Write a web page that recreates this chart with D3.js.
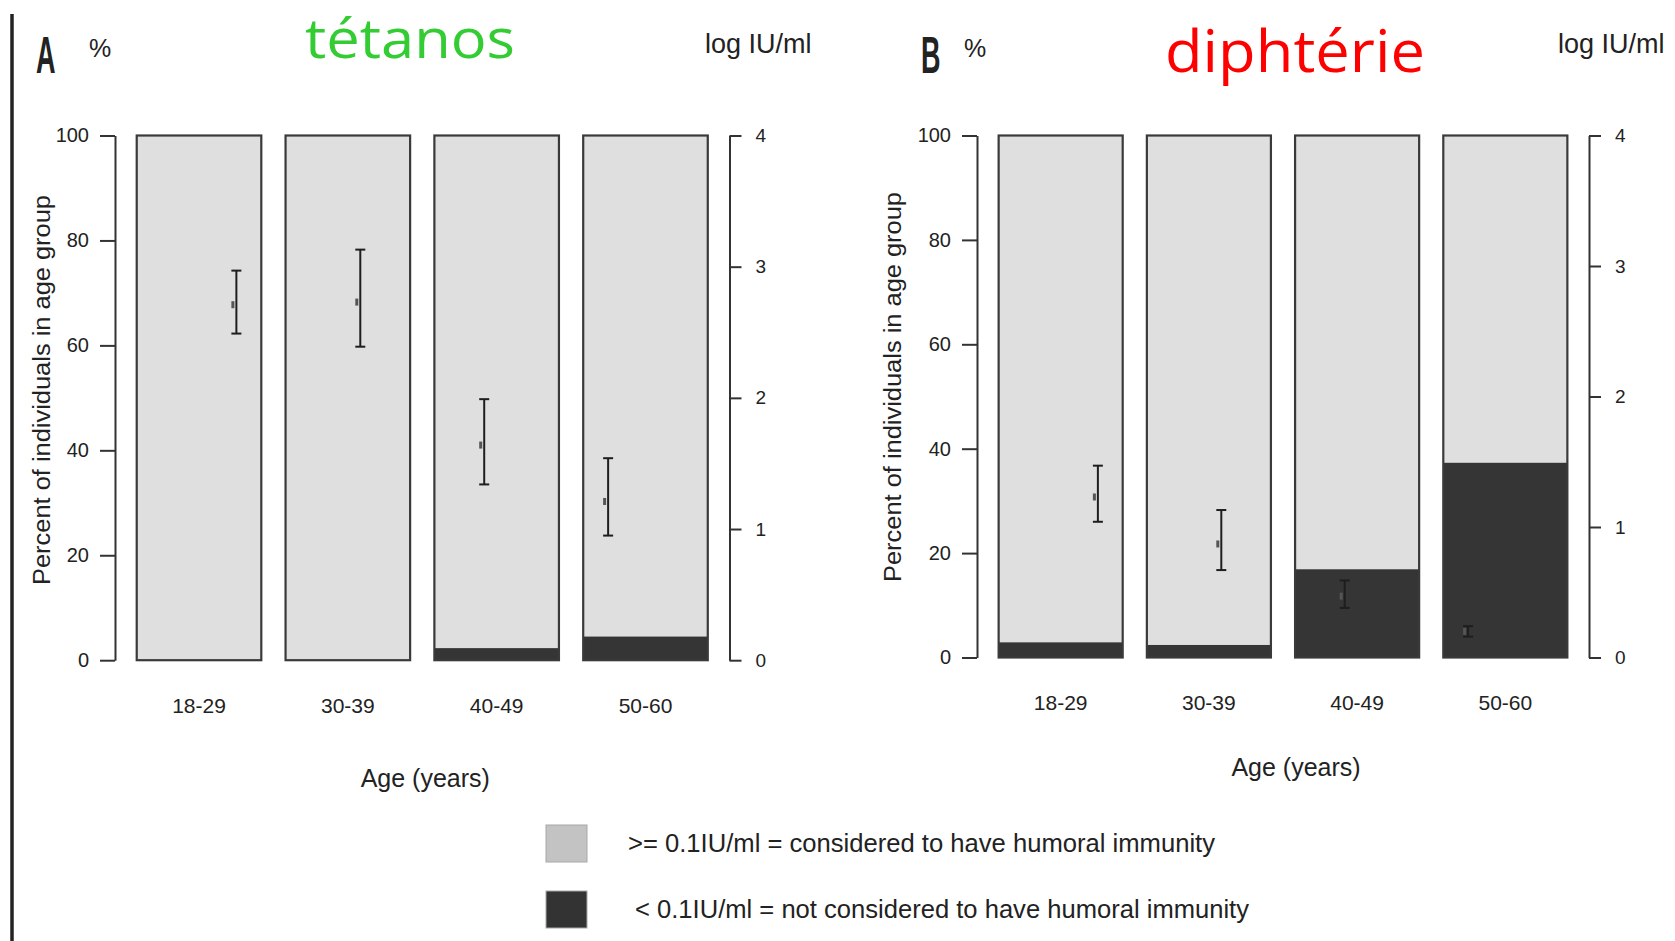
<!DOCTYPE html>
<html>
<head>
<meta charset="utf-8">
<script src="https://cdn.jsdelivr.net/npm/d3@7"></script>
<style>
  body { margin: 0; background: #fff; }
  text { font-family: "Liberation Sans", Arial, sans-serif; fill: #222; }
</style>
</head>
<body>
<svg id="chart" width="1675" height="941"></svg>
<script>
// age groups on the x axis
var ageGroups = ["18-29", "30-39", "40-49", "50-60"];
var pctTicks = [0, 20, 40, 60, 80, 100];
var logTicks = [0, 1, 2, 3, 4];

// % of individuals below 0.1 IU/ml (dark part of bar)
var tetanosLow = [0, 0, 2.3, 4.5];
var diphtLow = [2.9, 2.4, 16.9, 37.3];

// mean log IU/ml with interval
var tetanosMean = [2.71, 2.73, 1.64, 1.21];
var tetanosLo = [2.49, 2.39, 1.34, 0.95];
var tetanosHi = [2.97, 3.13, 1.99, 1.54];
var diphtMean = [1.23, 0.87, 0.47, 0.20];
var diphtLo = [1.04, 0.67, 0.38, 0.16];
var diphtHi = [1.47, 1.13, 0.59, 0.24];

var legendLabels = [">= 0.1IU/ml = considered to have humoral immunity",
                    "< 0.1IU/ml = not considered to have humoral immunity"];

var svg = d3.select("#chart");

var lightFill = "#dfdfdf", darkFill = "#353535", lineCol = "#333";

// left border line
svg.append("line")
    .attr("x1", 12).attr("x2", 12)
    .attr("y1", 14).attr("y2", 941)
    .attr("stroke", "#222").attr("stroke-width", 3.5);

var drawPanel = function(p) {
    var x = d3.scaleBand()
        .domain(ageGroups)
        .range([p.left, p.right])
        .paddingInner(0.163)
        .paddingOuter(0.146);
    var y = d3.scaleLinear().domain([0, 100]).range([p.bottom, p.top]);
    var yLog = d3.scaleLinear().domain([0, 4]).range([p.bottom, p.top]);
    var bw = x.bandwidth();
    // error bars sit on their own evenly spaced positions
    var xErr = d3.scaleLinear().domain([0, 3])
        .range([x(ageGroups[0]) + 0.8 * bw, x(ageGroups[3]) + 0.2 * bw]);

    var g = svg.append("g");

    var bars = g.selectAll(".bar")
        .data(ageGroups)
        .enter().append("g");
    bars.append("rect")
        .attr("x", function(d) { return x(d); })
        .attr("y", y(100))
        .attr("width", bw)
        .attr("height", y(0) - y(100))
        .attr("fill", lightFill);
    bars.append("rect")
        .attr("x", function(d) { return x(d); })
        .attr("y", function(d, i) { return y(p.low[i]); })
        .attr("width", bw)
        .attr("height", function(d, i) { return y(0) - y(p.low[i]); })
        .attr("fill", darkFill);
    bars.append("rect")
        .attr("x", function(d) { return x(d); })
        .attr("y", y(100))
        .attr("width", bw)
        .attr("height", y(0) - y(100))
        .attr("fill", "none")
        .attr("stroke", "#3a3a3a")
        .attr("stroke-width", 2.2);

    // error bars
    var eb = g.selectAll(".err")
        .data(ageGroups)
        .enter().append("g")
        .attr("stroke", "#1e1e1e")
        .attr("stroke-width", 2);
    eb.append("line")
        .attr("x1", function(d, i) { return xErr(i); })
        .attr("x2", function(d, i) { return xErr(i); })
        .attr("y1", function(d, i) { return yLog(p.lo[i]); })
        .attr("y2", function(d, i) { return yLog(p.hi[i]); });
    eb.append("line")
        .attr("x1", function(d, i) { return xErr(i) - 5; })
        .attr("x2", function(d, i) { return xErr(i) + 5; })
        .attr("y1", function(d, i) { return yLog(p.lo[i]); })
        .attr("y2", function(d, i) { return yLog(p.lo[i]); });
    eb.append("line")
        .attr("x1", function(d, i) { return xErr(i) - 5; })
        .attr("x2", function(d, i) { return xErr(i) + 5; })
        .attr("y1", function(d, i) { return yLog(p.hi[i]); })
        .attr("y2", function(d, i) { return yLog(p.hi[i]); });
    eb.append("rect")
        .attr("x", function(d, i) { return xErr(i) - 5; })
        .attr("y", function(d, i) { return yLog(p.mean[i]) - 3.5; })
        .attr("width", 3)
        .attr("height", 7)
        .attr("stroke", "none")
        .attr("fill", "#555");

    // axes
    var leftAxis = d3.axisLeft(y).tickValues(pctTicks)
        .tickSize(15).tickSizeOuter(0).tickPadding(11);
    var rightAxis = d3.axisRight(yLog).tickValues(logTicks)
        .tickFormat(d3.format("d"))
        .tickSize(12).tickSizeOuter(0).tickPadding(14);
    var la = g.append("g")
        .attr("transform", "translate(" + p.left + ",0)")
        .call(leftAxis);
    var ra = g.append("g")
        .attr("transform", "translate(" + p.right + ",0)")
        .call(rightAxis);
    [la, ra].forEach(function(a) {
        a.selectAll("path, line").attr("stroke", lineCol).attr("stroke-width", 2);
        a.selectAll("text").attr("fill", "#2a2a2a").style("font-family", '"Liberation Sans", Arial, sans-serif');
    });
    la.selectAll("text").style("font-size", "20px");
    ra.selectAll("text").style("font-size", "19px");

    // category labels
    g.selectAll(".cat")
        .data(ageGroups)
        .enter().append("text")
        .attr("x", function(d) { return x(d) + bw / 2; })
        .attr("y", p.bottom + p.catDy)
        .attr("text-anchor", "middle")
        .style("font-size", "21px")
        .text(function(d) { return d; });

    g.append("text")
        .attr("x", (p.left + p.right) / 2 + p.ageDx)
        .attr("y", p.bottom + p.ageDy)
        .attr("text-anchor", "middle")
        .style("font-size", "25px")
        .text("Age (years)");

    g.append("text")
        .attr("transform", "translate(" + p.yTitleX + "," + p.yTitleY + ") rotate(-90)")
        .attr("text-anchor", "middle")
        .attr("dy", "0.35em")
        .attr("textLength", 390)
        .attr("lengthAdjust", "spacingAndGlyphs")
        .style("font-size", "23px")
        .text("Percent of individuals in age group");

    // headings
    g.append("text")
        .attr("transform", "translate(" + p.letterX + "," + p.letterY + ") scale(0.52,1)")
        .style("font-size", "52px")
        .style("font-weight", "bold")
        .attr("fill", "#111")
        .text(p.letter);
    g.append("text")
        .attr("x", p.pctX).attr("y", 57)
        .style("font-size", "25px")
        .text("%");
    g.append("text")
        .attr("x", p.logX).attr("y", 53.3)
        .style("font-size", "27px")
        .attr("fill", "#1a1a1a")
        .text("log IU/ml");
    g.append("text")
        .attr("x", p.titleX).attr("y", p.titleY)
        .attr("textLength", p.titleW)
        .attr("lengthAdjust", "spacingAndGlyphs")
        .style("font-family", '"Open Sans", "Noto Sans", sans-serif')
        .style("font-size", p.titleSize + "px")
        .style("fill", p.titleColor)
        .text(p.title);
};

drawPanel({
    left: 115, right: 729.5, top: 135.5, bottom: 660.2,
    low: tetanosLow, mean: tetanosMean, lo: tetanosLo, hi: tetanosHi,
    catDy: 53, ageDx: 3, ageDy: 127, yTitleX: 41.7, yTitleY: 390,
    letter: "A", letterX: 36, letterY: 72.6, pctX: 89, logX: 705,
    title: "tétanos", titleX: 305, titleY: 58.3, titleW: 210, titleSize: 55, titleColor: "#33cc33"
});
drawPanel({
    left: 977, right: 1589, top: 135.5, bottom: 657.5,
    low: diphtLow, mean: diphtMean, lo: diphtLo, hi: diphtHi,
    catDy: 52.5, ageDx: 13, ageDy: 118.5, yTitleX: 893, yTitleY: 387,
    letter: "B", letterX: 921, letterY: 73, pctX: 964, logX: 1558,
    title: "diphtérie", titleX: 1165, titleY: 71.7, titleW: 260, titleSize: 58, titleColor: "#ff0000"
});

// legend
var legend = svg.append("g");
var legFills = ["#c3c3c3", "#333333"];
var legBox = legend.selectAll(".lg")
    .data(legendLabels)
    .enter().append("g")
    .attr("transform", function(d, i) { return "translate(546," + (825 + i * 66) + ")"; });
legBox.append("rect")
    .attr("width", 41).attr("height", 37)
    .attr("fill", function(d, i) { return legFills[i]; })
    .attr("stroke", "#a8a8a8").attr("stroke-width", 1);
legBox.append("text")
    .attr("x", function(d, i) { return i === 0 ? 82 : 89; })
    .attr("y", 27)
    .attr("textLength", function(d, i) { return i === 0 ? 587 : 614; })
    .attr("lengthAdjust", "spacingAndGlyphs")
    .style("font-size", "25px")
    .text(function(d) { return d; });
</script>
</body>
</html>
